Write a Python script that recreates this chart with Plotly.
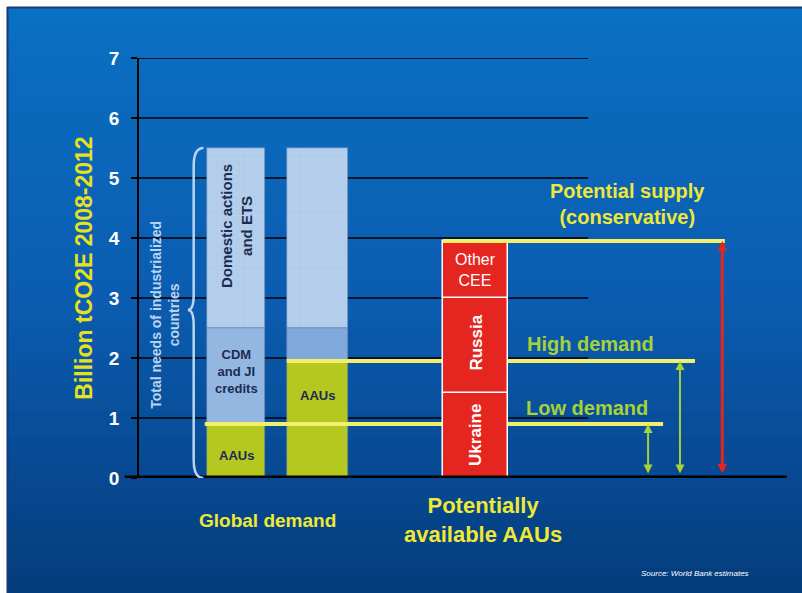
import plotly.graph_objects as go

# ---------------- data ----------------
y_ticks = [0, 1, 2, 3, 4, 5, 6, 7]

# Global demand bar 1 (bottom -> top)
bar1_labels = ["AAUs", "CDM<br>and JI<br>credits", "Domestic actions<br>and ETS"]
bar1_values = [0.9, 1.6, 3.0]
# Global demand bar 2 (bottom -> top)
bar2_labels = ["AAUs", "", ""]
bar2_values = [1.95, 0.55, 3.0]
# Potentially available AAUs (bottom -> top)
supply_labels = ["Ukraine", "Russia", "Other<br>CEE"]
supply_values = [1.42, 1.58, 0.95]

low_demand = 0.9
high_demand = 1.95
potential_supply = sum(supply_values)

# ---------------- layout constants ----------------
FONT = "Liberation Sans, Arial, sans-serif"
bar_x = [1.49, 2.74, 5.17]
bar_w = [0.89, 0.94, 1.0]
grid_end = 6.9
YEL = "#f3ef6a"
YEL_TXT = "#efe836"
GRN = "#a6d13a"
RED = "#e52620"

c_light = "#b2cdea"
c_mid = "#93b7e0"
c_mid2 = "#80a9dc"
c_green = "#b5c81f"

# pixel -> paper helpers (plot area: x 139..790, y 58..478)
def px(x):
    return (x - 139) / 651

def py(y):
    return (478 - y) / 420

fig = go.Figure()

def seg_bases(vals):
    b, out = 0.0, []
    for v in vals:
        out.append(b)
        b += v
    return out

pat = dict(shape="+", fgcolor="rgba(255,255,255,0.35)", size=7, solidity=0.08, fillmode="overlay")

b1 = seg_bases(bar1_values)
cols1 = [c_green, c_mid, c_light]
for i, v in enumerate(bar1_values):
    fig.add_trace(go.Bar(x=[bar_x[0]], y=[v], base=[b1[i]], width=bar_w[0],
                         marker=dict(color=cols1[i], line=dict(color="#5a7fb0", width=0.6),
                                     pattern=pat if i == 2 else None),
                         showlegend=False, hoverinfo="skip"))
b2 = seg_bases(bar2_values)
cols2 = [c_green, c_mid2, c_light]
for i, v in enumerate(bar2_values):
    fig.add_trace(go.Bar(x=[bar_x[1]], y=[v], base=[b2[i]], width=bar_w[1],
                         marker=dict(color=cols2[i], line=dict(color="#5a7fb0", width=0.6),
                                     pattern=pat if i == 2 else None),
                         showlegend=False, hoverinfo="skip"))

fig.add_trace(go.Scatter(x=[1.01, 8.05], y=[low_demand, low_demand], mode="lines",
                         line=dict(color=YEL, width=4), showlegend=False, hoverinfo="skip"))
fig.add_trace(go.Scatter(x=[2.27, 8.54], y=[high_demand, high_demand], mode="lines",
                         line=dict(color=YEL, width=4), showlegend=False, hoverinfo="skip"))

b3 = seg_bases(supply_values)
for i, v in enumerate(supply_values):
    fig.add_trace(go.Bar(x=[bar_x[2]], y=[v], base=[b3[i]], width=bar_w[2],
                         marker=dict(color=RED, line=dict(color="white", width=1.5)),
                         xaxis="x3", yaxis="y3", showlegend=False, hoverinfo="skip"))
fig.add_trace(go.Scatter(x=[4.67, 9.0], y=[potential_supply, potential_supply], mode="lines",
                         line=dict(color=YEL, width=4), xaxis="x3", yaxis="y3",
                         showlegend=False, hoverinfo="skip"))

shapes = []
# background vertical gradient (bright blue top -> navy bottom)
stops = [(8, (10, 112, 194)), (300, (11, 92, 176)), (593, (4, 60, 124))]
n_bands = 45
top_px, bot_px = 8, 593
for k in range(n_bands):
    y0 = top_px + (bot_px - top_px) * k / n_bands
    y1 = top_px + (bot_px - top_px) * (k + 1) / n_bands
    ym = (y0 + y1) / 2
    for (sa, ca), (sb, cb) in zip(stops[:-1], stops[1:]):
        if sa <= ym <= sb:
            t = (ym - sa) / (sb - sa)
            c = tuple(round(ca[j] + (cb[j] - ca[j]) * t) for j in range(3))
            break
    shapes.append(dict(type="rect", xref="paper", yref="paper", layer="below",
                       x0=px(8), x1=px(803), y0=py(y1 + 0.6), y1=py(y0),
                       fillcolor=f"rgb{c}", line=dict(width=0)))
# dark frame line
shapes.append(dict(type="line", xref="paper", yref="paper", layer="below",
                   x0=px(7), x1=px(803), y0=py(7.5), y1=py(7.5), line=dict(color="#183a78", width=2)))
shapes.append(dict(type="line", xref="paper", yref="paper", layer="below",
                   x0=px(7.5), x1=px(7.5), y0=py(7), y1=py(594), line=dict(color="#183a78", width=2)))
# gridlines (from tick values)
for t in y_ticks[1:]:
    shapes.append(dict(type="line", xref="x", yref="y", layer="below",
                       x0=0, x1=grid_end, y0=t, y1=t, line=dict(color="black", width=1.6)))
# thick baseline
shapes.append(dict(type="line", xref="paper", yref="y", layer="above",
                   x0=-0.022, x1=0.995, y0=0, y1=0, line=dict(color="black", width=5)))
# curly brace
top = sum(bar1_values)
mid = 2.8
shapes.append(dict(type="path", xref="x", yref="y", layer="above",
                   path=(f"M 0.99,{top} Q 0.84,{top} 0.84,{top-0.3} L 0.84,{mid+0.25} "
                         f"Q 0.84,{mid} 0.75,{mid} Q 0.84,{mid} 0.84,{mid-0.25} "
                         f"L 0.84,0.3 Q 0.84,0 0.99,0"),
                   line=dict(color="#b8d6f2", width=2.5)))

ann = []
dark = "#1c2b52"
ann.append(dict(x=bar_x[0], y=0.38, text="<b>AAUs</b>", showarrow=False,
                font=dict(family=FONT, size=13, color=dark)))
ann.append(dict(x=bar_x[0], y=b1[1] + bar1_values[1] / 2 + 0.07, text="<b>" + bar1_labels[1] + "</b>",
                showarrow=False, font=dict(family=FONT, size=13, color=dark)))
ann.append(dict(x=bar_x[0], y=b1[2] + bar1_values[2] / 2 + 0.2, text="<b>" + bar1_labels[2] + "</b>",
                textangle=-90, showarrow=False, font=dict(family=FONT, size=15, color=dark)))
ann.append(dict(x=bar_x[1], y=1.38, text="<b>" + bar2_labels[0] + "</b>", showarrow=False,
                font=dict(family=FONT, size=13, color=dark)))
ann.append(dict(x=bar_x[2], y=b3[0] + supply_values[0] / 2, text="<b>" + supply_labels[0] + "</b>",
                textangle=-90, showarrow=False, font=dict(family=FONT, size=17, color="white")))
ann.append(dict(x=bar_x[2], y=b3[1] + supply_values[1] / 2 + 0.04, text="<b>" + supply_labels[1] + "</b>",
                textangle=-90, showarrow=False, font=dict(family=FONT, size=17, color="white")))
ann.append(dict(x=bar_x[2], y=b3[2] + supply_values[2] / 2, text=supply_labels[2],
                showarrow=False, font=dict(family=FONT, size=16, color="white")))
ann.append(dict(x=0.4, y=2.72, text="<b>Total needs of industrialized<br>countries</b>", textangle=-90,
                showarrow=False, font=dict(family=FONT, size=14, color="#bcd4f0")))
ann.append(dict(x=7.51, y=4.57, text="<b>Potential supply<br>(conservative)</b>", showarrow=False,
                font=dict(family=FONT, size=20, color=YEL_TXT)))
ann.append(dict(x=6.93, y=2.23, text="<b>High demand</b>", showarrow=False,
                font=dict(family=FONT, size=20, color=GRN)))
ann.append(dict(x=6.88, y=1.17, text="<b>Low demand</b>", showarrow=False,
                font=dict(family=FONT, size=20, color=GRN)))
ann.append(dict(x=1.97, y=py(520), yref="paper", yanchor="middle", xanchor="center",
                text="<b>Global demand</b>", showarrow=False,
                font=dict(family=FONT, size=19, color=YEL_TXT)))
ann.append(dict(x=5.28, y=py(520), yref="paper", yanchor="middle", xanchor="center",
                text="<b>Potentially<br>available AAUs</b>",
                showarrow=False, font=dict(family=FONT, size=22, color=YEL_TXT)))
ann.append(dict(x=8.54, y=py(573), yref="paper", yanchor="middle", xanchor="center",
                text="<i>Source: World Bank estimates</i>",
                showarrow=False, font=dict(family=FONT, size=8, color="white")))
for xa, lvl, col, w, s in [(7.82, low_demand, GRN, 2, 0.9), (8.31, high_demand, GRN, 2, 0.9),
                           (8.96, potential_supply, RED, 3, 0.65)]:
    ann.append(dict(x=xa, y=lvl, ax=xa, ay=0.05, xref="x", yref="y", axref="x", ayref="y",
                    text="", showarrow=True, arrowhead=2, arrowside="end+start",
                    arrowsize=s, arrowwidth=w, arrowcolor=col))

fig.update_layout(
    width=802, height=593,
    margin=dict(l=139, r=12, t=58, b=115),
    paper_bgcolor="white",
    plot_bgcolor="rgba(0,0,0,0)",
    barmode="overlay",
    bargap=0,
    showlegend=False,
    shapes=shapes,
    annotations=ann,
    xaxis=dict(range=[0, 10], visible=False, fixedrange=True),
    yaxis=dict(range=[0, 7], tickvals=y_ticks, showgrid=False, zeroline=False,
               showline=True, linecolor="black", linewidth=1.5,
               ticks="outside", ticklen=6, tickcolor="black", tickwidth=1.5,
               ticklabelstandoff=8,
               tickfont=dict(family=FONT, size=19, color="white", weight="bold"),
               title=dict(text="Billion tCO2E 2008-2012", standoff=10,
                          font=dict(family=FONT, size=23, color="#e9e11e", weight="bold")),
               fixedrange=True),
    xaxis3=dict(range=[0, 10], visible=False, overlaying="x", fixedrange=True),
    yaxis3=dict(range=[0, 7], visible=False, overlaying="y", fixedrange=True),
)

fig.write_html("out.html")
